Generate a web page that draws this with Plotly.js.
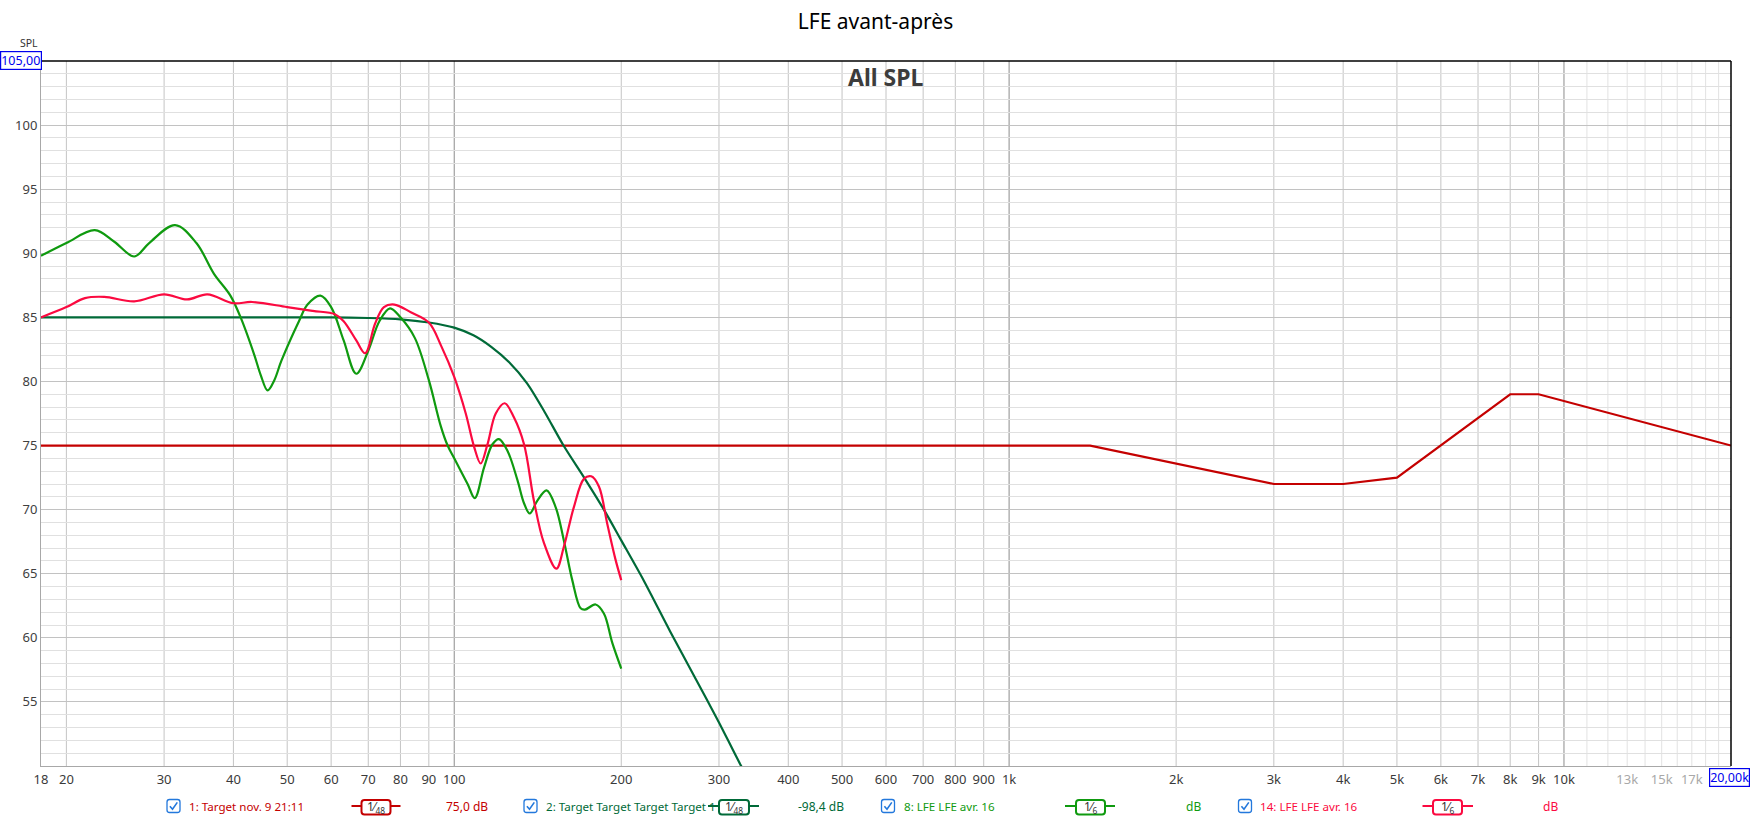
<!DOCTYPE html>
<html><head><meta charset="utf-8">
<script src="https://cdn.plot.ly/plotly-3.0.1.min.js"></script>
<style>html,body{margin:0;padding:0;background:#fff;} #chart{width:1751px;height:818px;}</style>
</head><body><div id="chart"></div>
<script>
// ---------- data ----------
const target1Freq = [18, 1400, 3000, 4000, 5000, 8000, 9000, 20000];
const target1Spl  = [75, 75, 72, 72, 72.5, 79, 79, 75];

const target2Freq = [18, 30, 40, 50, 60, 70, 80, 90, 100, 108.3, 116.6, 125.6, 135.3, 145.6, 157.4, 172, 186.1, 200, 220, 245, 270, 300, 328, 360];
const target2Spl  = [85, 85, 85, 85, 85, 84.95, 84.85, 84.6, 84.2, 83.6, 82.7, 81.5, 79.85, 77.6, 75.0, 72.4, 70.0, 67.6, 64.4, 60.5, 57.1, 53.4, 50.1, 47.0];

const lfe8Freq = [18, 20, 22.5, 24.4, 26.5, 28.2, 31.4, 34.3, 36.9, 39.5, 41.3, 43.6, 44.8, 46.1, 47.4, 48.8, 52.5, 54.4, 57.4, 60, 63.2, 66.6, 70, 73.3, 76.6, 80, 84.9, 90, 94.6, 97.3, 100, 105.7, 108.9, 113.2, 117.2, 120.4, 124.7, 130, 133.6, 136.8, 141.2, 146.7, 152.3, 157.6, 163.2, 169, 172, 179.8, 186.1, 192.7, 200];
const lfe8Spl  = [89.8, 90.8, 91.8, 90.9, 89.75, 90.8, 92.2, 90.8, 88.4, 86.7, 84.9, 82.1, 80.5, 79.3, 80.1, 81.6, 84.7, 86.0, 86.7, 85.8, 83.2, 80.6, 82.4, 84.7, 85.7, 85.0, 83.4, 80.1, 76.5, 75.0, 74.0, 72.0, 70.9, 73.3, 75.1, 75.5, 74.6, 72.3, 70.5, 69.7, 70.7, 71.5, 70.2, 67.6, 64.5, 62.3, 62.2, 62.6, 61.9, 59.6, 57.6];

const lfe14Freq = [18, 20, 21.6, 23.4, 26.5, 30, 33, 35.9, 40, 43.2, 50, 55.6, 60.9, 63.2, 66.6, 69.1, 72, 74.7, 78, 83.5, 90, 94.9, 100, 104.9, 108.6, 111.6, 114.8, 118.8, 123.3, 128.1, 133.6, 139.2, 145.1, 152.8, 157.6, 164.3, 171.3, 176.6, 182.3, 188.7, 195.3, 200];
const lfe14Spl  = [85.0, 85.8, 86.5, 86.6, 86.25, 86.8, 86.4, 86.8, 86.1, 86.2, 85.8, 85.5, 85.25, 84.7, 83.2, 82.2, 84.5, 85.8, 86.0, 85.4, 84.6, 82.7, 80.35, 77.5, 74.9, 73.6, 75.1, 77.5, 78.3, 77.2, 75.1, 70.7, 67.4, 65.4, 67.1, 70.2, 72.4, 72.6, 71.8, 68.9, 66.1, 64.5];

const xTickVals = [18, 20, 30, 40, 50, 60, 70, 80, 90, 100, 200, 300, 400, 500, 600, 700, 800, 900, 1000, 2000, 3000, 4000, 5000, 6000, 7000, 8000, 9000, 10000, 13000, 15000, 17000];
const xTickText = ['18', '20', '30', '40', '50', '60', '70', '80', '90', '100', '200', '300', '400', '500', '600', '700', '800', '900', '1k', '2k', '3k', '4k', '5k', '6k', '7k', '8k', '9k', '10k', '13k', '15k', '17k'];
const xFadedLabels = ['13k', '15k', '17k'];
const yTickVals = [55, 60, 65, 70, 75, 80, 85, 90, 95, 100];

const gridFreqs   = [20, 30, 40, 50, 60, 70, 80, 90, 200, 300, 400, 500, 600, 700, 800, 900, 2000, 3000, 4000, 5000, 6000, 7000, 8000, 9000];
const decadeFreqs = [100, 1000, 10000];
const fineFreqs   = [11000, 12000, 13000, 14000, 15000, 16000, 17000, 18000, 19000];

const legendNames     = ['1: Target nov. 9 21:11', '2: Target Target Target Target 1', '8: LFE LFE avr. 16', '14: LFE LFE avr. 16'];
const legendSmoothing = ['48', '48', '6', '6'];
const legendValues    = ['75,0 dB', '-98,4 dB', 'dB', 'dB'];

const titleText = 'LFE avant-après';
const subTitle  = 'All SPL';
const yUnit     = 'SPL';
const yTopLabel = '105,00';
const xEndLabel = '20,00k';

// ---------- styles ----------
const colors = ['#c40000', '#006a38', '#0f9a0f', '#fb0a40'];
const FONT = 'Noto Sans, Open Sans, sans-serif';
const L = 41, R = 1731, T = 61, B = 766;
const W = R - L, H = B - T;
const px = x => (x - L) / W;
const py = y => (B - y) / H;

const traces = [
  {x: target1Freq, y: target1Spl, mode: 'lines', line: {color: colors[0], width: 2.2}},
  {x: target2Freq, y: target2Spl, mode: 'lines', line: {color: colors[1], width: 2.2, shape: 'spline', smoothing: 0.8}},
  {x: lfe8Freq, y: lfe8Spl, mode: 'lines', line: {color: colors[2], width: 2.2, shape: 'spline', smoothing: 1}},
  {x: lfe14Freq, y: lfe14Spl, mode: 'lines', line: {color: colors[3], width: 2.2, shape: 'spline', smoothing: 1}}
];
traces.forEach(t => { t.hoverinfo = 'skip'; t.showlegend = false; t.cliponaxis = true; });

const shapes = [];
const vline = (f, color) => shapes.push({type: 'line', xref: 'x', yref: 'paper', x0: f, x1: f, y0: 0, y1: 1, line: {color: color, width: 1}, layer: 'below'});
fineFreqs.forEach(f => vline(f, '#e2e2e2'));
gridFreqs.forEach(f => vline(f, '#c4c4c4'));
decadeFreqs.forEach(f => vline(f, '#8c8c8c'));
// borders
shapes.push({type: 'line', xref: 'paper', yref: 'paper', x0: 0, x1: 1, y0: 1, y1: 1, line: {color: '#000', width: 1.5}});
shapes.push({type: 'line', xref: 'paper', yref: 'paper', x0: 1, x1: 1, y0: 0, y1: 1, line: {color: '#000', width: 1.5}});

function rrect(x0, y0, x1, y1, r) {
  const p = (x, y) => px(x).toFixed(5) + ',' + py(y).toFixed(5);
  return 'M' + p(x0 + r, y0) + ' L' + p(x1 - r, y0) + ' Q' + p(x1, y0) + ' ' + p(x1, y0 + r) +
    ' L' + p(x1, y1 - r) + ' Q' + p(x1, y1) + ' ' + p(x1 - r, y1) +
    ' L' + p(x0 + r, y1) + ' Q' + p(x0, y1) + ' ' + p(x0, y1 - r) +
    ' L' + p(x0, y0 + r) + ' Q' + p(x0, y0) + ' ' + p(x0 + r, y0) + ' Z';
}

const annotations = [];
const ann = (x, y, text, opts) => annotations.push(Object.assign({xref: 'paper', yref: 'paper', x: px(x), y: py(y), text: text, showarrow: false, font: {family: FONT, size: 12, color: '#333'}}, opts));

// legend geometry
const legCheckX = [173.5, 530.5, 888, 1245];
const legTextX  = [187, 544, 901.5, 1258];
const legLine   = [[351.5, 400.5], [708, 759], [1065, 1115], [1422.5, 1473]];
const legBox    = [[361.5, 390.5], [719, 749], [1076, 1105], [1433, 1462]];
const legValX   = [466.5, 821, 1193.5, 1550.5];
const legY = 806;
const checkBlue = '#2378dc';
for (let i = 0; i < 4; i++) {
  const cx = legCheckX[i];
  shapes.push({type: 'path', xref: 'paper', yref: 'paper', path: rrect(cx - 6.5, legY - 6.5, cx + 6.5, legY + 6.5, 2.5), line: {color: checkBlue, width: 1.3}, fillcolor: '#fff'});
  shapes.push({type: 'path', xref: 'paper', yref: 'paper',
    path: 'M' + px(cx - 3.6) + ',' + py(legY + 0.2) + ' L' + px(cx - 1) + ',' + py(legY + 3.2) + ' L' + px(cx + 3.8) + ',' + py(legY - 3.6),
    line: {color: checkBlue, width: 1.6}});
  ann(legTextX[i], legY, legendNames[i], {xanchor: 'left', yanchor: 'middle', font: {family: FONT, size: 11.6, color: colors[i]}});
  shapes.push({type: 'line', xref: 'paper', yref: 'paper', x0: px(legLine[i][0]), x1: px(legLine[i][1]), y0: py(legY), y1: py(legY), line: {color: colors[i], width: 2.2}});
  shapes.push({type: 'path', xref: 'paper', yref: 'paper', path: rrect(legBox[i][0], legY - 6, legBox[i][1], legY + 8.5, 3), line: {color: colors[i], width: 2}, fillcolor: '#fff'});
  ann((legBox[i][0] + legBox[i][1]) / 2, legY + 1.5, '1\u2044<sub>' + legendSmoothing[i] + '</sub>', {xanchor: 'center', yanchor: 'middle', font: {family: FONT, size: 12, color: '#333'}});
  ann(legValX[i], legY, legendValues[i], {xanchor: 'center', yanchor: 'middle', font: {family: FONT, size: 12, color: colors[i]}});
}

// other labels
ann(886, 77, '<b>' + subTitle + '</b>', {xanchor: 'center', yanchor: 'middle', font: {family: FONT, size: 23, color: '#3c3c3c'}});
ann(28.5, 42.5, yUnit, {xanchor: 'center', yanchor: 'middle', font: {family: FONT, size: 10.5, color: '#333'}});
ann(20.7, 60.5, yTopLabel, {xanchor: 'center', yanchor: 'middle', font: {family: FONT, size: 12.5, color: '#0000ee'}, bordercolor: '#0000ee', borderwidth: 1.2, borderpad: 0, bgcolor: '#fff'});
ann(1729.7, 777.5, xEndLabel, {xanchor: 'center', yanchor: 'middle', font: {family: FONT, size: 12.5, color: '#0000ee'}, bordercolor: '#0000ee', borderwidth: 1.2, borderpad: 0, bgcolor: '#fff'});

const tickText = xTickText.map(t => xFadedLabels.includes(t) ? '<span style="color:#a8a8a8">' + t + '</span>' : t);

const layout = {
  width: 1751, height: 818,
  margin: {l: L, r: 1751 - R, t: T, b: 818 - B},
  paper_bgcolor: '#fff', plot_bgcolor: '#fff',
  title: {text: titleText, x: 0.5, xref: 'container', xanchor: 'center', y: 1 - 22 / 818, yref: 'container', yanchor: 'middle', font: {family: FONT, size: 21, color: '#000'}},
  showlegend: false,
  hovermode: false,
  xaxis: {
    type: 'log', range: [Math.log10(18), Math.log10(20000)],
    tickmode: 'array', tickvals: xTickVals, ticktext: tickText,
    showgrid: false, zeroline: false,
    showline: true, linecolor: '#a8a8a8', linewidth: 1,
    ticks: 'outside', ticklen: 1, tickcolor: 'rgba(0,0,0,0)',
    tickfont: {family: FONT, size: 13, color: '#3a3a3a'}
  },
  yaxis: {
    range: [50, 105],
    tickmode: 'array', tickvals: yTickVals,
    showgrid: true, gridcolor: '#c2c2c2', gridwidth: 1,
    minor: {tickmode: 'linear', tick0: 50, dtick: 1, showgrid: true, gridcolor: '#e0e0e0', gridwidth: 1, ticks: ''},
    zeroline: false,
    showline: true, linecolor: '#a8a8a8', linewidth: 1,
    ticks: '',
    tickfont: {family: FONT, size: 13, color: '#404040'}
  },
  shapes: shapes,
  annotations: annotations
};

Plotly.newPlot('chart', traces, layout, {staticPlot: true, displayModeBar: false});
</script>
</body></html>
